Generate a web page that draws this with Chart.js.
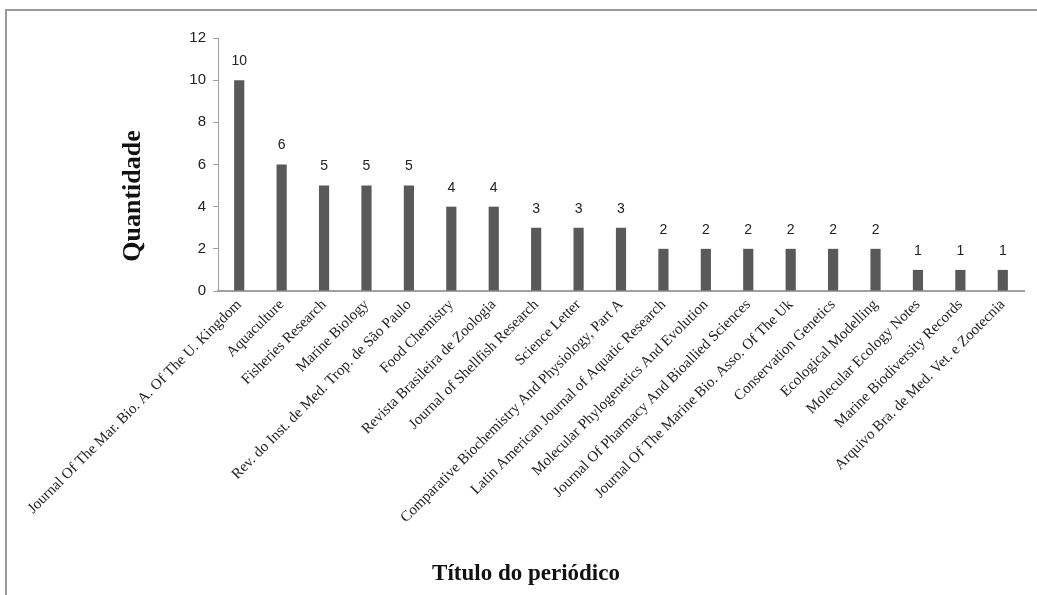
<!DOCTYPE html>
<html>
<head>
<meta charset="utf-8">
<script src="https://cdn.jsdelivr.net/npm/chart.js@4/dist/chart.umd.min.js"></script>
<style>
    html, body { margin: 0; padding: 0; background: #fff; }
    #wrap { position: relative; width: 1037px; height: 595px; overflow: hidden; }
    #frame { position: absolute; left: 5px; top: 9px; width: 1100px; height: 700px; border: 2px solid #9a9a9a; box-sizing: border-box; }
    #chart { position: absolute; left: 0; top: 0; }
</style>
</head>
<body>
<div id="wrap">
    <div id="frame"></div>
    <canvas id="chart" width="1037" height="595"></canvas>
</div>
<script>
    // Journal titles and article counts
    const journals = [
        'Journal Of The Mar. Bio. A. Of The U. Kingdom',
        'Aquaculture',
        'Fisheries Research',
        'Marine Biology',
        'Rev. do Inst. de Med. Trop. de São Paulo',
        'Food Chemistry',
        'Revista Brasileira de Zoologia',
        'Journal of Shellfish Research',
        'Science Letter',
        'Comparative Biochemistry And Physiology, Part A',
        'Latin American Journal of Aquatic Research',
        'Molecular Phylogenetics And Evolution',
        'Journal Of Pharmacy And Bioallied Sciences',
        'Journal Of The Marine Bio. Asso. Of The Uk',
        'Conservation Genetics',
        'Ecological Modelling',
        'Molecular Ecology Notes',
        'Marine Biodiversity Records',
        'Arquivo Bra. de Med. Vet. e Zootecnia'
    ];
    const counts = [10, 6, 5, 5, 5, 4, 4, 3, 3, 3, 2, 2, 2, 2, 2, 2, 1, 1, 1];
    const yTicks = [0, 2, 4, 6, 8, 10, 12];
    const yTitle = 'Quantidade';
    const xTitle = 'Título do periódico';

    const sansFont = '"Liberation Sans", Arial, sans-serif';
    const serifFont = '"Liberation Serif", "Times New Roman", serif';

    // Value above each bar plus the two axis titles (placed off-centre like the original)
    const annotations = {
        id: 'annotations',
        afterDraw(chart) {
            const ctx = chart.ctx;
            const meta = chart.getDatasetMeta(0);
            const area = chart.chartArea;
            ctx.save();
            ctx.font = '14px ' + sansFont;
            ctx.fillStyle = '#222';
            ctx.textAlign = 'center';
            ctx.textBaseline = 'bottom';
            meta.data.forEach((bar, i) => {
                ctx.fillText(String(counts[i]), bar.x, bar.y - 12);
            });

            ctx.fillStyle = '#111';
            ctx.textBaseline = 'middle';
            ctx.font = 'bold 26px ' + serifFont;
            ctx.translate(133, 196);
            ctx.rotate(-Math.PI / 2);
            ctx.fillText(yTitle, 0, 0);
            ctx.setTransform(1, 0, 0, 1, 0, 0);

            ctx.font = 'bold 23px ' + serifFont;
            ctx.fillText(xTitle, 526, 574);
            ctx.restore();
        }
    };

    new Chart(document.getElementById('chart'), {
        type: 'bar',
        data: {
            labels: journals,
            datasets: [{
                data: counts,
                backgroundColor: '#595959',
                borderWidth: 0,
                categoryPercentage: 1,
                barPercentage: 0.24
            }]
        },
        options: {
            responsive: false,
            animation: false,
            devicePixelRatio: 1,
            layout: { padding: { left: 118, top: 38, right: 13, bottom: 6 } },
            plugins: { legend: { display: false }, tooltip: { enabled: false } },
            scales: {
                x: {
                    grid: { display: true, drawOnChartArea: false, drawTicks: false },
                    border: { display: true, color: '#a0a0a0', width: 2 },
                    ticks: {
                        autoSkip: false,
                        maxRotation: 45,
                        minRotation: 45,
                        padding: 5,
                        color: '#222',
                        font: { family: serifFont, size: 15 }
                    },
                    afterFit(scale) { scale.height = 298; }
                },
                y: {
                    min: 0,
                    max: 12,
                    afterBuildTicks(scale) { scale.ticks = yTicks.map(v => ({ value: v })); },
                    grid: { drawOnChartArea: false, drawTicks: true, tickLength: 5, color: '#a0a0a0' },
                    border: { display: true, color: '#a0a0a0', width: 1 },
                    ticks: {
                        padding: 7,
                        color: '#222',
                        font: { family: sansFont, size: 15 }
                    },
                    afterFit(scale) { scale.width = 100; }
                }
            }
        },
        plugins: [annotations]
    });
</script>
</body>
</html>
